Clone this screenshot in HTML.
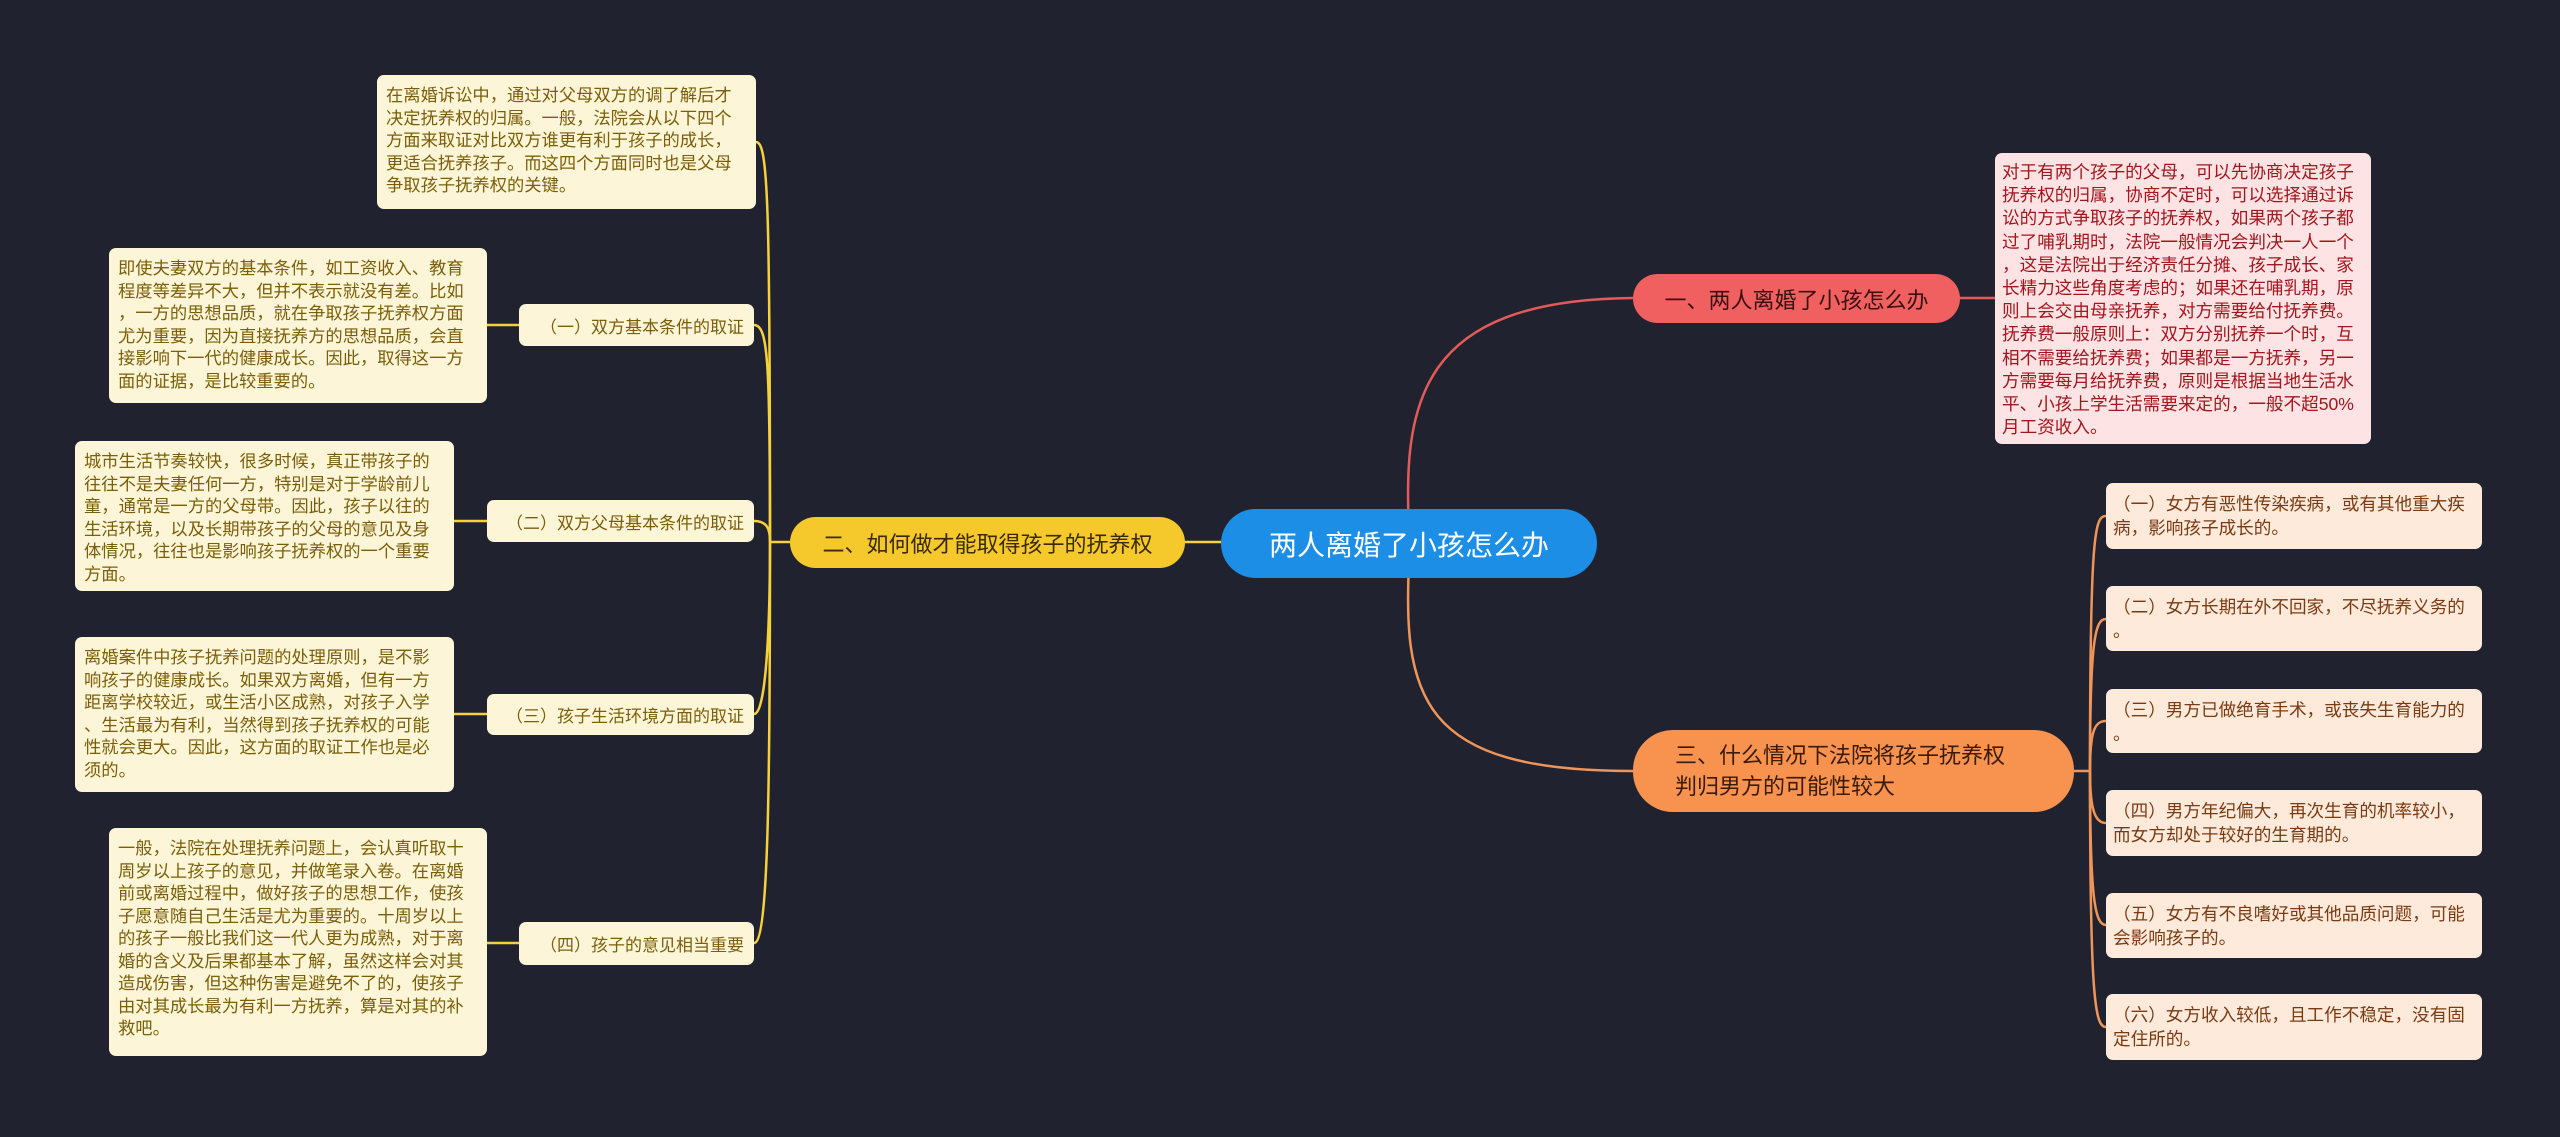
<!DOCTYPE html>
<html><head><meta charset="utf-8">
<style>
body{margin:0;width:2560px;height:1137px;background:#20232f;position:relative;overflow:hidden;font-family:"Liberation Sans","Noto Sans CJK SC",sans-serif}
.b{position:absolute;box-sizing:border-box;border-radius:7px;line-break:anywhere;word-break:break-all}
.ty{background:#fdf5d8;color:#7a5f08;font-size:17.3px;line-height:22.5px;padding:9px 9px}
.lb{background:#fdf5d8;color:#7a5f08;font-size:17px;display:flex;align-items:center;justify-content:flex-end;padding-right:10px}
.tr{background:#fde3e3;color:#a2161e;font-size:17.6px;line-height:23.2px;padding:8px 7px}
.to{background:#fdeadb;color:#7a3a12;font-size:17.6px;line-height:24px;padding:9px 7px}
.n{position:absolute;box-sizing:border-box;display:flex;align-items:center;border-radius:30px}
</style></head><body>
<svg width="2560" height="1137" style="position:absolute;left:0;top:0">
<g fill="none" stroke-width="2.5">
<path d="M1410 545 C1400 400 1420 300 1633 298" stroke="#e25a5a"/>
<path d="M1960 298 L1995 298" stroke="#e25a5a"/>
<path d="M1410 545 C1400 700 1420 771 1633 771" stroke="#f0955a"/>
<g stroke="#f0955a">
<path d="M2074 771 L2090 771"/>
<path d="M2090 771 C2090 530 2095 516 2106 516"/>
<path d="M2090 771 C2090 640 2095 619 2106 619"/>
<path d="M2090 771 C2090 730 2095 721 2106 721"/>
<path d="M2090 771 C2090 810 2095 823 2106 823"/>
<path d="M2090 771 C2090 900 2095 925 2106 925"/>
<path d="M2090 771 C2090 1000 2095 1027 2106 1027"/>
</g>
<path d="M1185 542 L1221 542" stroke="#f5d23c"/>
<g stroke="#f5d23c">
<path d="M790 542 L770 542"/>
<path d="M770 542 C770 200 768 142 756 142"/>
<path d="M770 542 C770 360 768 325 754 325"/>
<path d="M770 542 C770 530 768 521 754 521"/>
<path d="M770 542 C770 600 768 714 754 714"/>
<path d="M770 542 C770 800 768 943 754 943"/>
<path d="M487 325 L519 325"/>
<path d="M454 521 L487 521"/>
<path d="M454 714 L487 714"/>
<path d="M487 943 L519 943"/>
</g>
</g></svg>

<div class="n" style="left:1221px;top:509px;width:376px;height:69px;background:#1c8ee6;color:#fff;font-size:28px;justify-content:center;border-radius:35px">两人离婚了小孩怎么办</div>
<div class="n" style="left:1633px;top:274px;width:327px;height:49px;background:#f06060;color:#3a1010;font-size:22px;justify-content:center">一、两人离婚了小孩怎么办</div>
<div class="n" style="left:1633px;top:730px;width:441px;height:82px;background:#f7924f;color:#3a1a08;font-size:22px;line-height:31px;padding-left:42px;border-radius:40px">三、什么情况下法院将孩子抚养权<br>判归男方的可能性较大</div>
<div class="n" style="left:790px;top:517px;width:395px;height:51px;background:#f5c92c;color:#3a2a00;font-size:22px;justify-content:center">二、如何做才能取得孩子的抚养权</div>

<div class="b tr" style="left:1995px;top:153px;width:376px;height:291px">对于有两个孩子的父母，可以先协商决定孩子抚养权的归属，协商不定时，可以选择通过诉讼的方式争取孩子的抚养权，如果两个孩子都过了哺乳期时，法院一般情况会判决一人一个，这是法院出于经济责任分摊、孩子成长、家长精力这些角度考虑的；如果还在哺乳期，原则上会交由母亲抚养，对方需要给付抚养费。抚养费一般原则上：双方分别抚养一个时，互相不需要给抚养费；如果都是一方抚养，另一方需要每月给抚养费，原则是根据当地生活水平、小孩上学生活需要来定的，一般不超50%月工资收入。</div>

<div class="b to" style="left:2106px;top:483px;width:376px;height:66px">（一）女方有恶性传染疾病，或有其他重大疾病，影响孩子成长的。</div>
<div class="b to" style="left:2106px;top:586px;width:376px;height:65px">（二）女方长期在外不回家，不尽抚养义务的。</div>
<div class="b to" style="left:2106px;top:689px;width:376px;height:64px">（三）男方已做绝育手术，或丧失生育能力的。</div>
<div class="b to" style="left:2106px;top:790px;width:376px;height:66px">（四）男方年纪偏大，再次生育的机率较小，而女方却处于较好的生育期的。</div>
<div class="b to" style="left:2106px;top:893px;width:376px;height:65px">（五）女方有不良嗜好或其他品质问题，可能会影响孩子的。</div>
<div class="b to" style="left:2106px;top:994px;width:376px;height:66px">（六）女方收入较低，且工作不稳定，没有固定住所的。</div>

<div class="b ty" style="left:377px;top:75px;width:379px;height:134px">在离婚诉讼中，通过对父母双方的调了解后才决定抚养权的归属。一般，法院会从以下四个方面来取证对比双方谁更有利于孩子的成长，更适合抚养孩子。而这四个方面同时也是父母争取孩子抚养权的关键。</div>
<div class="b lb" style="left:519px;top:304px;width:235px;height:42px">（一）双方基本条件的取证</div>
<div class="b lb" style="left:487px;top:500px;width:267px;height:42px">（二）双方父母基本条件的取证</div>
<div class="b lb" style="left:487px;top:694px;width:267px;height:41px">（三）孩子生活环境方面的取证</div>
<div class="b lb" style="left:519px;top:922px;width:235px;height:43px">（四）孩子的意见相当重要</div>
<div class="b ty" style="left:109px;top:248px;width:378px;height:155px">即使夫妻双方的基本条件，如工资收入、教育程度等差异不大，但并不表示就没有差。比如，一方的思想品质，就在争取孩子抚养权方面尤为重要，因为直接抚养方的思想品质，会直接影响下一代的健康成长。因此，取得这一方面的证据，是比较重要的。</div>
<div class="b ty" style="left:75px;top:441px;width:379px;height:150px">城市生活节奏较快，很多时候，真正带孩子的往往不是夫妻任何一方，特别是对于学龄前儿童，通常是一方的父母带。因此，孩子以往的生活环境，以及长期带孩子的父母的意见及身体情况，往往也是影响孩子抚养权的一个重要方面。</div>
<div class="b ty" style="left:75px;top:637px;width:379px;height:155px">离婚案件中孩子抚养问题的处理原则，是不影响孩子的健康成长。如果双方离婚，但有一方距离学校较近，或生活小区成熟，对孩子入学、生活最为有利，当然得到孩子抚养权的可能性就会更大。因此，这方面的取证工作也是必须的。</div>
<div class="b ty" style="left:109px;top:828px;width:378px;height:228px">一般，法院在处理抚养问题上，会认真听取十周岁以上孩子的意见，并做笔录入卷。在离婚前或离婚过程中，做好孩子的思想工作，使孩子愿意随自己生活是尤为重要的。十周岁以上的孩子一般比我们这一代人更为成熟，对于离婚的含义及后果都基本了解，虽然这样会对其造成伤害，但这种伤害是避免不了的，使孩子由对其成长最为有利一方抚养，算是对其的补救吧。</div>
</body></html>
